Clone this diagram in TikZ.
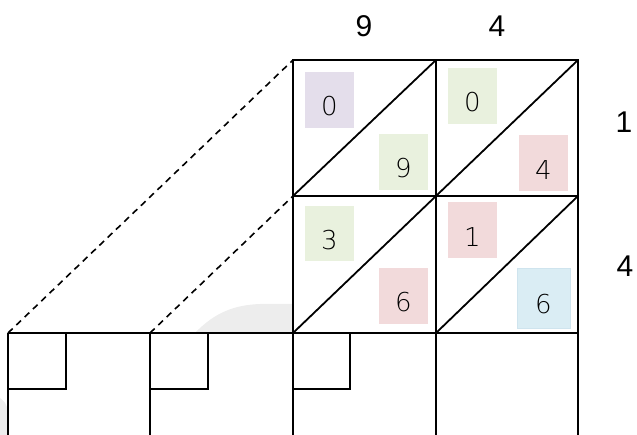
\documentclass[tikz,border=0pt]{standalone}
\usepackage{fontspec}
\setmainfont{Liberation Sans}
\newfontfamily\lightfont{DejaVu Sans ExtraLight}
\usetikzlibrary{positioning}
\definecolor{lilac}{HTML}{E4DEEB}
\definecolor{mint}{HTML}{E9F1DE}
\definecolor{rose}{HTML}{F2DADB}
\definecolor{sky}{HTML}{DAEDF4}
\definecolor{skyedge}{HTML}{CFE4EE}

\begin{document}
\begin{tikzpicture}[
          x=1pt,y=-1pt,
          every node/.style={inner sep=0pt},
          gridline/.style={line width=1.8pt},
          guideline/.style={line width=1.6pt,dash pattern=on 6.5pt off 5pt},
          digitbox/.style={minimum width=49pt,minimum height=56pt,
                           text height=32pt,text depth=0pt,
                           font=\lightfont\fontsize{26}{26}\selectfont},
          headlabel/.style={font=\fontsize{30}{30}\selectfont},
      ]
        \useasboundingbox (0,0) rectangle (637,435);
        % faint shadow
        \fill[gray!14] (195,333) .. controls (215,312) and (235,305) .. (260,304) -- (293,304) -- (293,333) -- cycle;
        \fill[gray!14] (0,398) .. controls (5,402) .. (8,410) -- (8,435) -- (0,435) -- cycle;

        % corners
        \coordinate (tl) at (293,60);  \coordinate (tm) at (436,60);  \coordinate (tr) at (578,60);
        \coordinate (ml) at (293,196); \coordinate (mm) at (436,196); \coordinate (mr) at (578,196);
        \coordinate (bl) at (293,333); \coordinate (bm) at (436,333); \coordinate (br) at (578,333);
        \coordinate (b1) at (8,333);   \coordinate (b2) at (150,333);

        % coloured digits
        \node[digitbox,fill=lilac] (p00) at (329.5,100) {0};
        \node[digitbox,fill=mint]  (p01) at (403.5,162) {9};
        \node[digitbox,fill=mint]  (p10) at (472.5,96)  {0};
        \node[digitbox,fill=rose]  (p11) at (543.5,163.5) {4};
        \node[digitbox,fill=mint,minimum height=55pt] (p20) at (329.5,233.5) {3};
        \node[digitbox,fill=rose]  (p21) at (403.5,296) {6};
        \node[digitbox,fill=rose]  (p30) at (472.5,230.5) {1};
        \node[digitbox,fill=sky,draw=skyedge,line width=0.8pt,
              minimum width=53pt,minimum height=60pt] (p31) at (543.5,298) {6};

        % lattice
        \draw[gridline] (tl) rectangle (br);
        \draw[gridline] (tm) -- (bm) (ml) -- (mr);
        \draw[gridline] (bl) -- (mm) (bm) -- (mr) (ml) -- (tm) (mm) -- (tr);

        % lower row
        \draw[gridline] (b1) -- (br);
        \foreach \x in {8,150,293,436,578}
          \draw[gridline] (\x,333) -- (\x,435);
        \foreach \x/\w in {8/66,150/208,293/350}
          \draw[gridline] (\x,389) -- (\w,389) -- (\w,333);

        % guides
        \draw[guideline] (b1) -- (tl);
        \draw[guideline] (b2) -- (ml);

        % factors
        \node[headlabel] (top9) at (364,26) {9};
        \node[headlabel] (top4) at (497,26) {4};
        \node[headlabel] (side1) at (624,122) {1};
        \node[headlabel] (side4) at (625,266) {4};
      \end{tikzpicture}
\end{document}
